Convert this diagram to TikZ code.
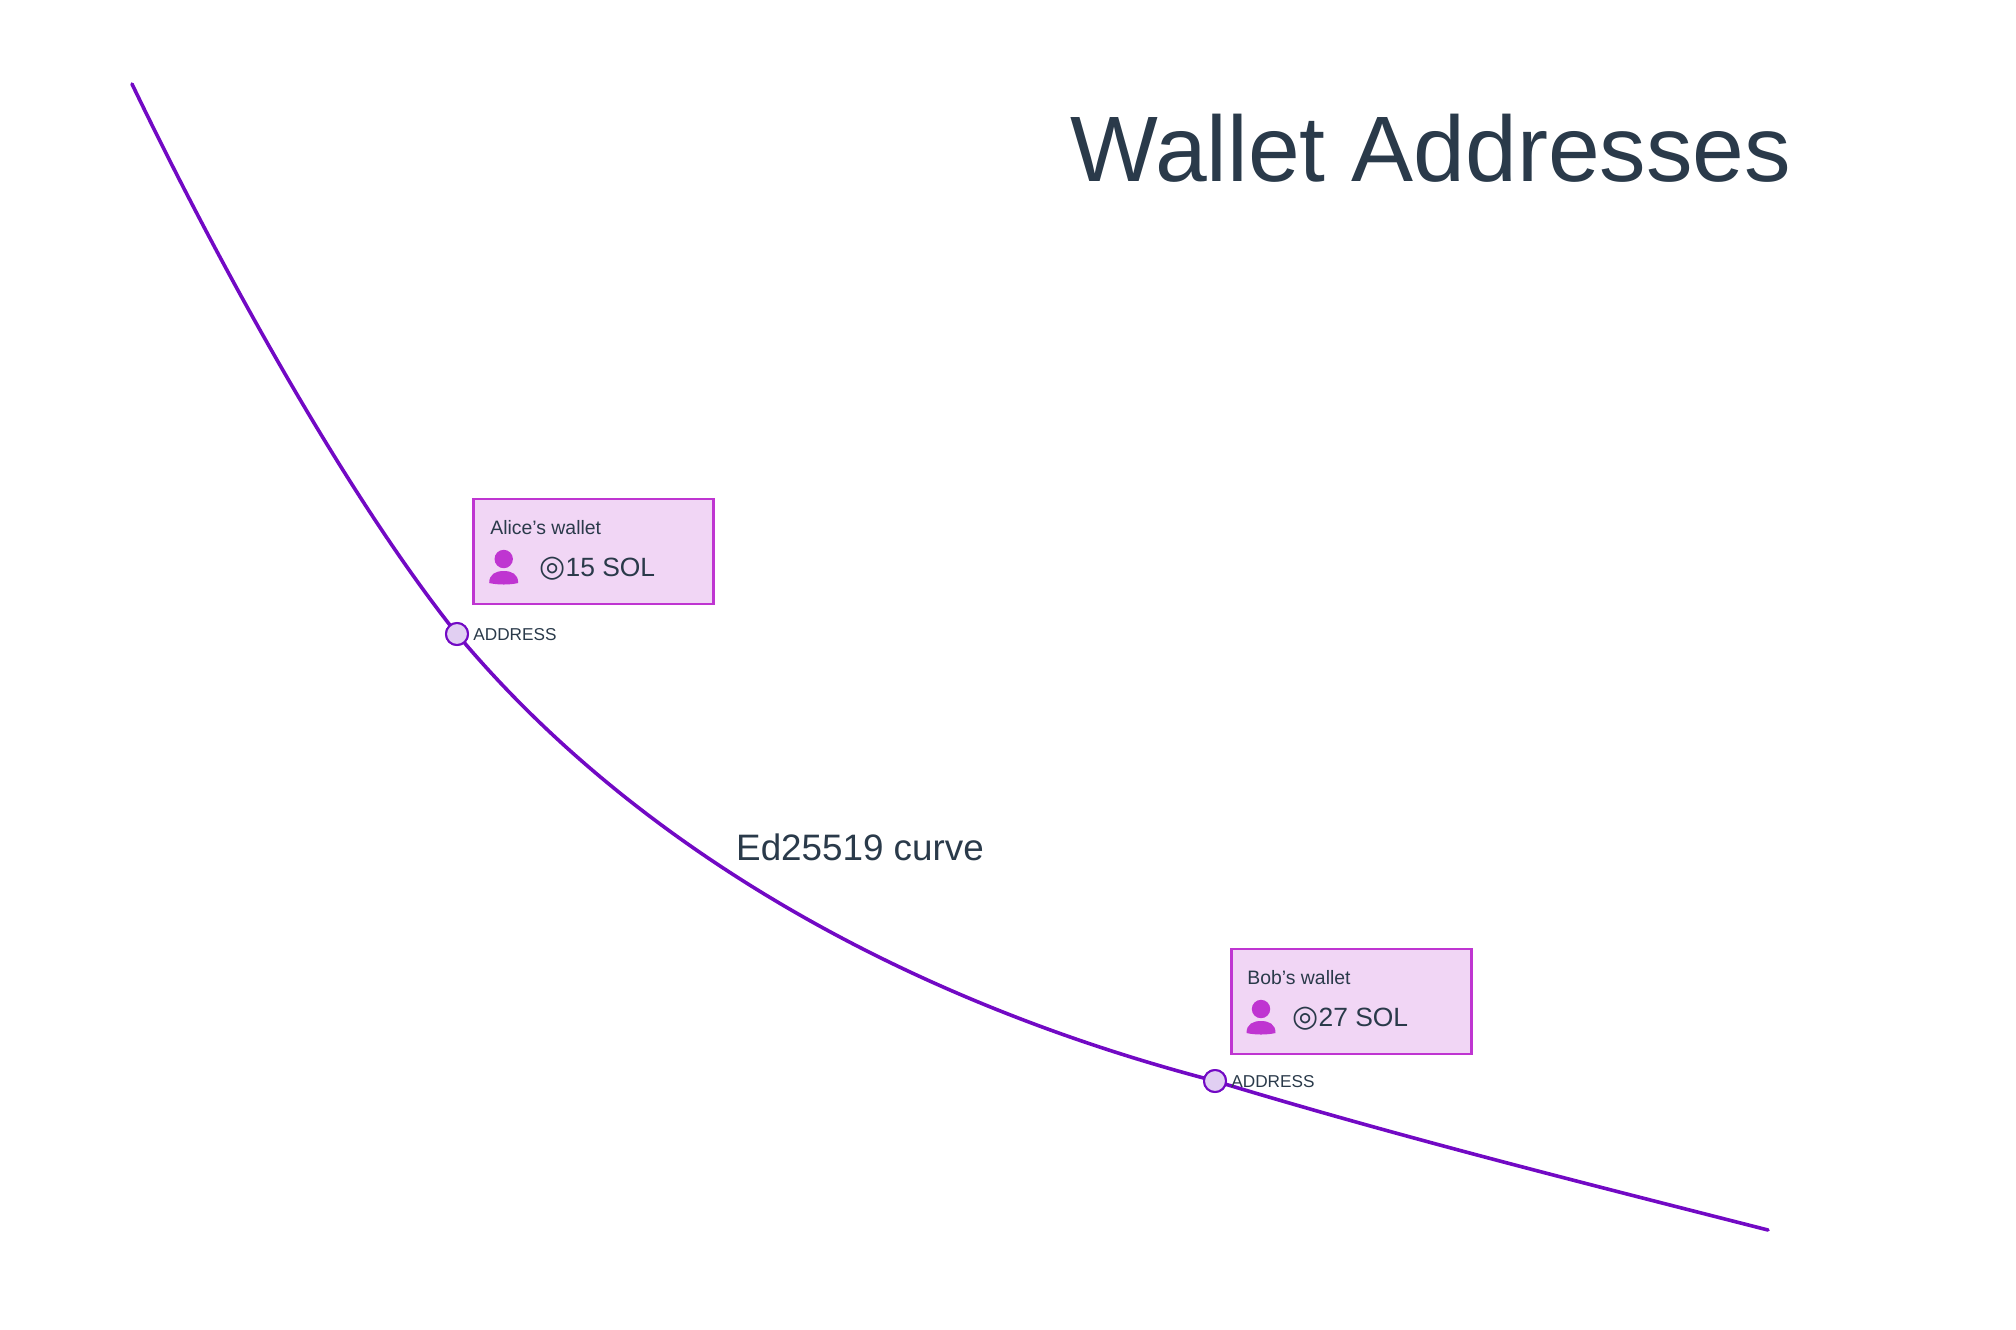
\documentclass[tikz,border=0pt]{standalone}
\usepackage{fontspec}
\setmainfont{Liberation Sans}
\newfontfamily\symbfont{DejaVu Sans}
\usetikzlibrary{positioning}
\definecolor{inkblue}{HTML}{2A3A4A}
\definecolor{curvepurple}{HTML}{7209C4}
\definecolor{dotfill}{HTML}{E1CFF2}
\definecolor{walletfill}{HTML}{F1D6F5}
\definecolor{walletline}{HTML}{BF35D1}

\begin{document}
\begin{tikzpicture}[x=0.5pt, y=-0.5pt,
    wallet/.style={rectangle, draw=walletline, fill=walletfill, line width=1.1pt, minimum width=120pt, minimum height=52.5pt, inner sep=0pt},
    walletname/.style={inner sep=0pt, text=inkblue, font=\fontsize{9.7}{11}\selectfont},
    balance/.style={inner sep=0pt, text=inkblue, font=\fontsize{13.2}{16}\selectfont},
    address/.style={circle, draw=curvepurple, fill=dotfill, line width=1pt, minimum size=11pt, inner sep=0pt},
    addrlabel/.style={inner sep=0pt, yshift=-0.5pt, text=inkblue, font=\fontsize{8.6}{11}\selectfont},
    caption/.style={inner sep=0pt, text=inkblue},
    person/.pic={
        \fill [walletline] (0,-12) circle (9.2);
        \fill [walletline] (-14.5,12) .. controls (-14.5,3) and (-8,0) .. (0,0) .. controls (8,0) and (14.5,3) .. (14.5,12) .. controls (6,14) and (-6,14) .. (-14.5,12) -- cycle;
    }
]
    \useasboundingbox (0,0) rectangle (2016,1329);

    % Title and curve label
    \node [caption, font=\fontsize{46.5}{56}\selectfont, anchor=base] (title) at (1431,181) {Wallet Addresses};
    \node [caption, font=\fontsize{18.4}{22}\selectfont, anchor=base] (curvename) at (860,860) {Ed25519 curve};

    % Curve end points and address dots
    \coordinate (curvestart) at (132,84);
    \coordinate (curveend) at (1768,1230);
    \node [address] (alice) at (457,634) {};
    \node [address] (bob) at (1215,1081) {};

    % Draw curve
    \draw [curvepurple, line width=1.8pt, line cap=round] (curvestart) .. controls (232,292) and (357,509) .. (alice.center)
        .. controls (625,835) and (885,995) .. (bob.center)
        .. controls (1400,1137) and (1580,1182) .. (curveend);
    \node [address] at (alice) {};
    \node [address] at (bob) {};

    % Address labels
    \node [addrlabel, right=2pt of alice] (alicelabel) {ADDRESS};
    \node [addrlabel, right=2pt of bob] (boblabel) {ADDRESS};

    % Wallets
    \node [wallet] (alicewallet) at (593.5,551.5) {};
    \node [wallet] (bobwallet) at (1351.5,1001.5) {};
    \node [walletname, anchor=base west] (alicename) at (490,534) {Alice’s wallet};
    \node [walletname, anchor=base west] (bobname) at (1247,984) {Bob’s wallet};
    \node [balance, anchor=base west] (alicebalance) at (539,576) {{\symbfont\fontsize{15}{16}\selectfont ◎}15 SOL};
    \node [balance, anchor=base west] (bobbalance) at (1292,1026) {{\symbfont\fontsize{15}{16}\selectfont ◎}27 SOL};

    % Person icons
    \pic at (503.7,571) {person};
    \pic at (1261,1021) {person};
\end{tikzpicture}
\end{document}
